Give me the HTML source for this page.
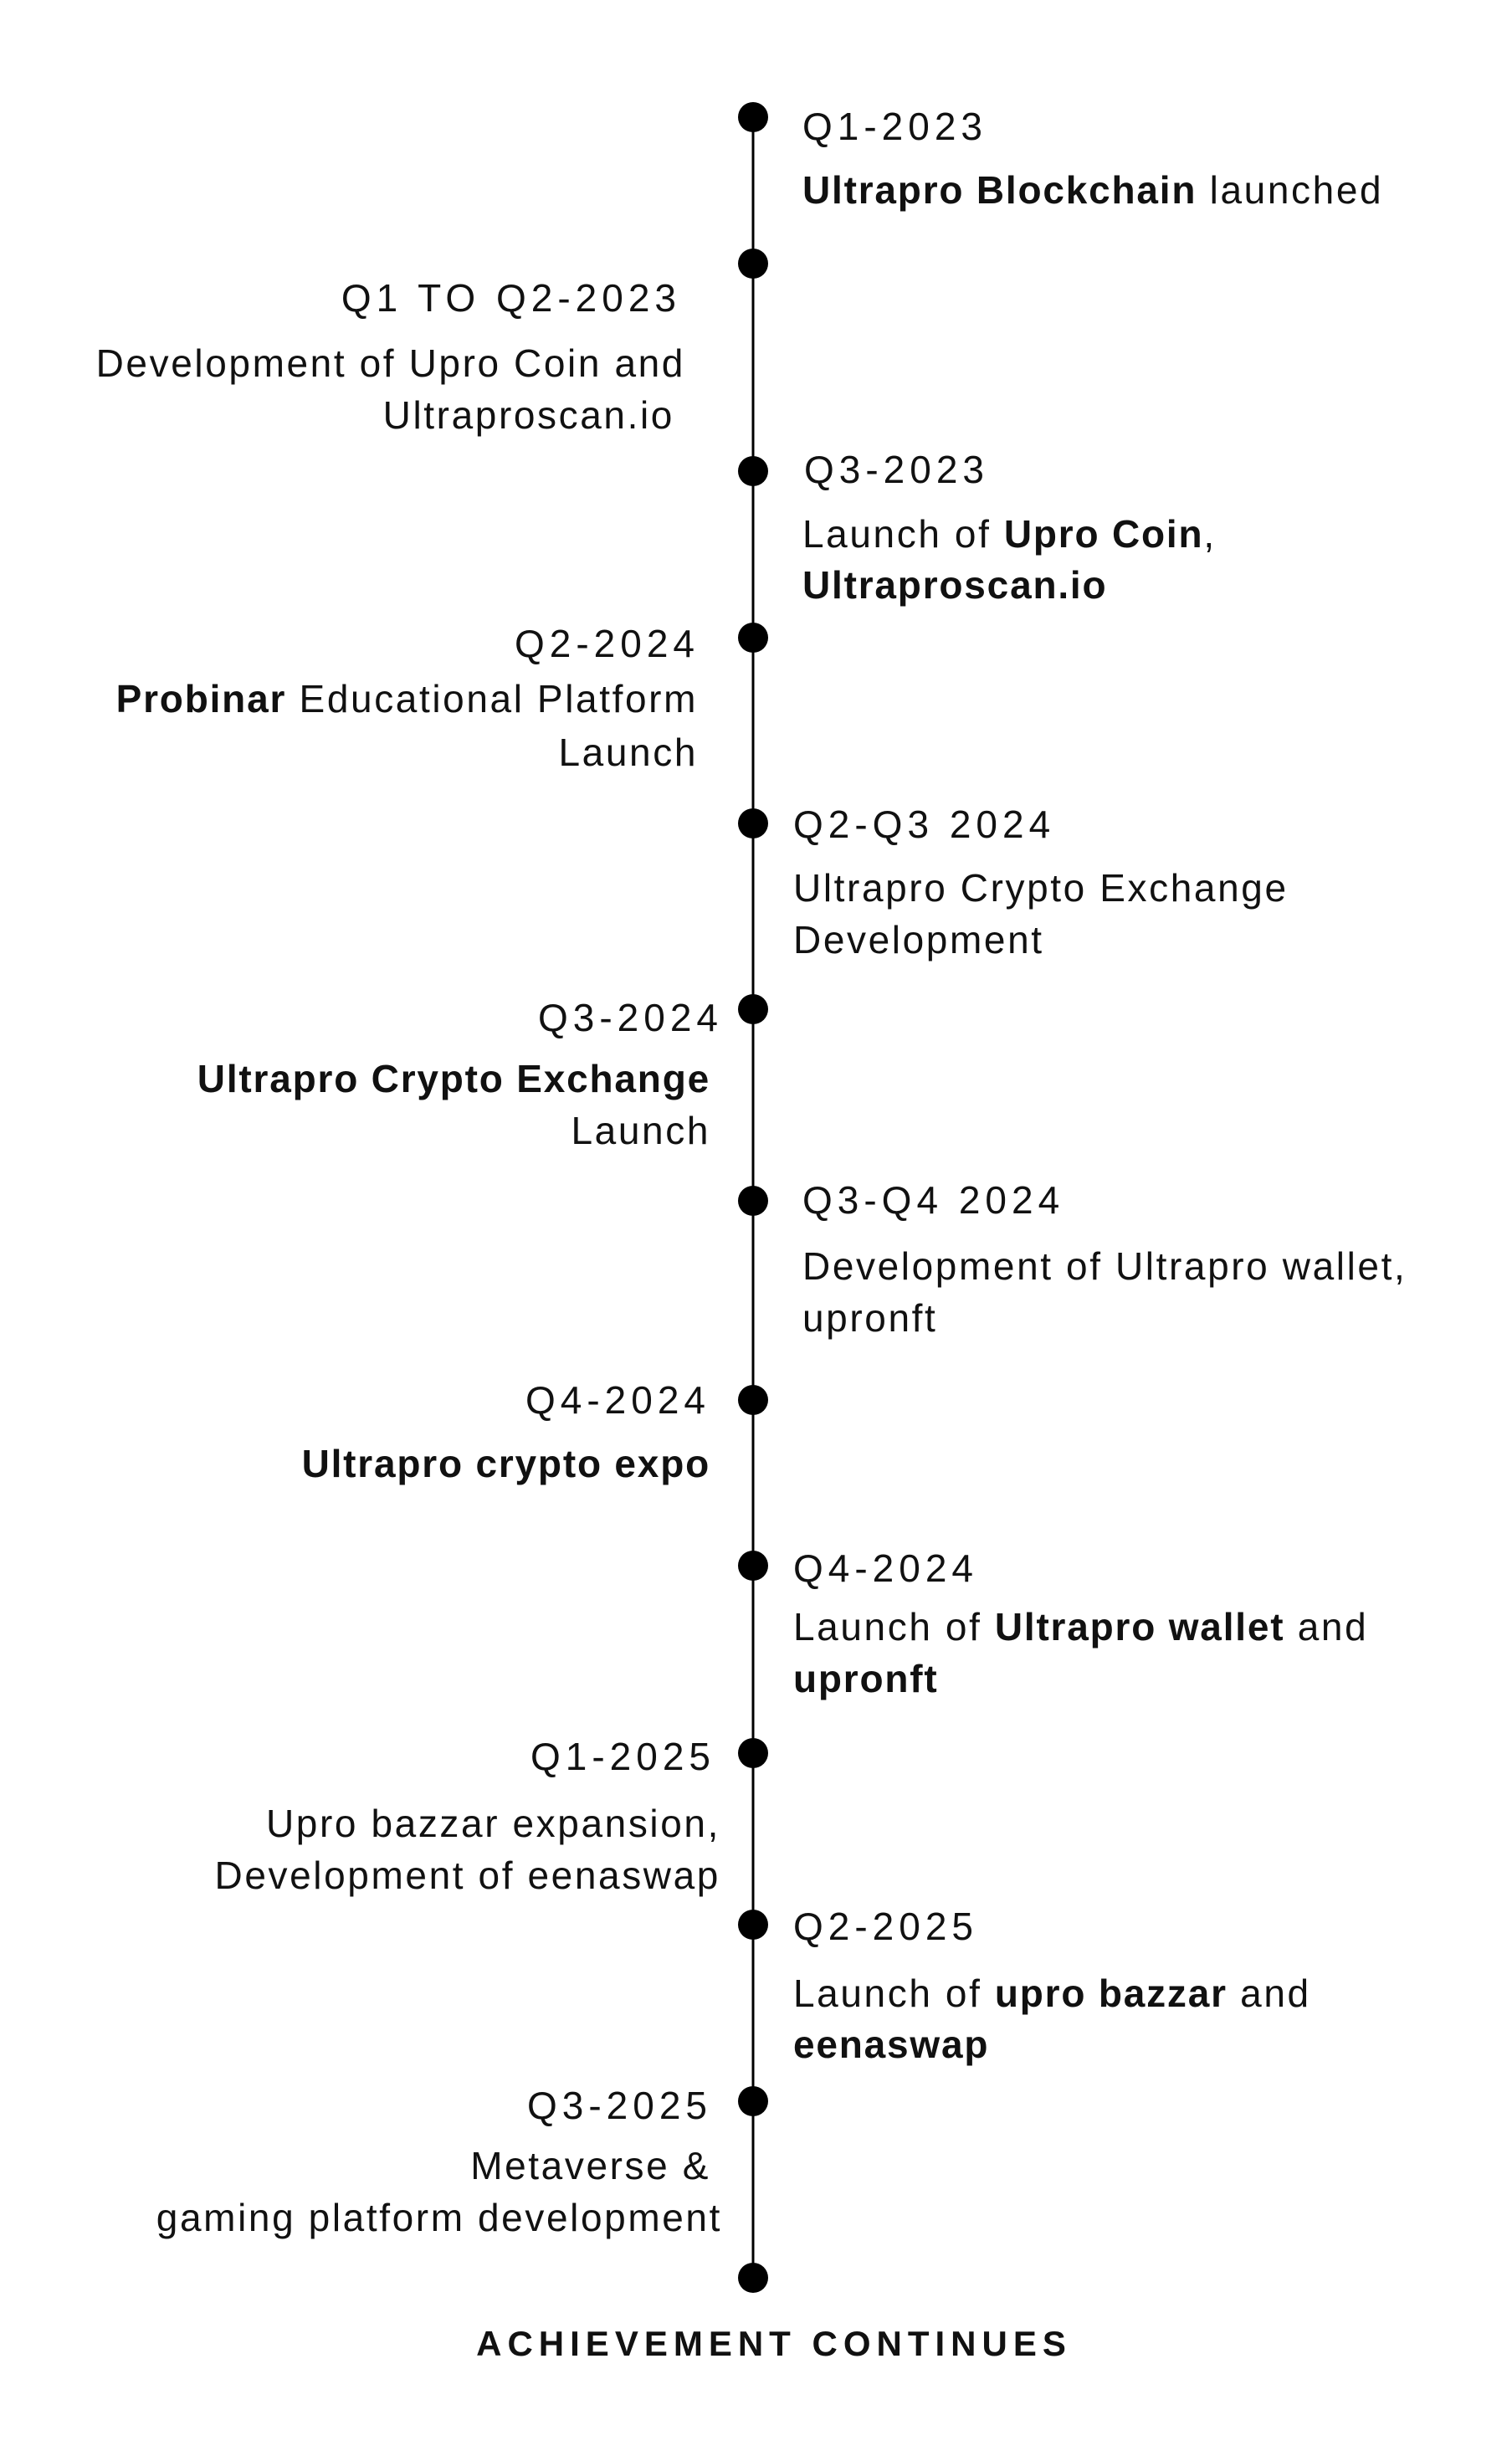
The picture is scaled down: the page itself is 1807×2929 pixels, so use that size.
<!DOCTYPE html>
<html><head><meta charset="utf-8"><style>
html,body{margin:0;padding:0;background:#fff;}
svg{display:block;}
text{font-family:"Liberation Sans",sans-serif;fill:#111;}
.t{font-size:46px;letter-spacing:6px;}
.b{font-size:46px;letter-spacing:2.6px;}
.bd{font-weight:bold;letter-spacing:1.8px;}
</style></head><body>
<svg width="1807" height="2929" viewBox="0 0 1807 2929">
<line x1="900" y1="140" x2="900" y2="2722" stroke="#000" stroke-width="3"/>
<g id="dots"></g>

<g>
<text class="t" x="959" y="167">Q1-2023</text>
<text class="b" x="959" y="243"><tspan class="bd">Ultrapro Blockchain</tspan> launched</text>
</g>
<g>
<text class="t" x="814" y="372" text-anchor="end">Q1 TO Q2-2023</text>
<text class="b" x="819" y="450" text-anchor="end">Development of Upro Coin and</text>
<text class="b" x="806" y="512" text-anchor="end">Ultraproscan.io</text>
</g>
<g>
<text class="t" x="961" y="577">Q3-2023</text>
<text class="b" x="959" y="654">Launch of <tspan class="bd">Upro Coin</tspan>,</text>
<text class="b bd" x="959" y="715">Ultraproscan.io</text>
</g>
<g>
<text class="t" x="836" y="785" text-anchor="end">Q2-2024</text>
<text class="b" x="834" y="851" text-anchor="end"><tspan class="bd">Probinar</tspan> Educational Platform</text>
<text class="b" x="834" y="915" text-anchor="end">Launch</text>
</g>
<g>
<text class="t" x="948" y="1001">Q2-Q3 2024</text>
<text class="b" x="948" y="1077">Ultrapro Crypto Exchange</text>
<text class="b" x="948" y="1139">Development</text>
</g>
<g>
<text class="t" x="864" y="1232" text-anchor="end">Q3-2024</text>
<text class="b bd" x="849" y="1305" text-anchor="end">Ultrapro Crypto Exchange</text>
<text class="b" x="849" y="1367" text-anchor="end">Launch</text>
</g>
<g>
<text class="t" x="959" y="1450">Q3-Q4 2024</text>
<text class="b" x="959" y="1529">Development of Ultrapro wallet,</text>
<text class="b" x="959" y="1591">upronft</text>
</g>
<g>
<text class="t" x="849" y="1689" text-anchor="end">Q4-2024</text>
<text class="b bd" x="849" y="1765" text-anchor="end">Ultrapro crypto expo</text>
</g>
<g>
<text class="t" x="948" y="1890">Q4-2024</text>
<text class="b" x="948" y="1960">Launch of <tspan class="bd">Ultrapro wallet</tspan> and</text>
<text class="b bd" x="948" y="2022">upronft</text>
</g>
<g>
<text class="t" x="855" y="2115" text-anchor="end">Q1-2025</text>
<text class="b" x="861" y="2195" text-anchor="end">Upro bazzar expansion,</text>
<text class="b" x="861" y="2257" text-anchor="end">Development of eenaswap</text>
</g>
<g>
<text class="t" x="948" y="2318">Q2-2025</text>
<text class="b" x="948" y="2398">Launch of <tspan class="bd">upro bazzar</tspan> and</text>
<text class="b bd" x="948" y="2459">eenaswap</text>
</g>
<g>
<text class="t" x="851" y="2532" text-anchor="end">Q3-2025</text>
<text class="b" x="849" y="2604" text-anchor="end">Metaverse &amp;</text>
<text class="b" x="863" y="2666" text-anchor="end">gaming platform development</text>
</g>
<text x="925" y="2815" text-anchor="middle" style="font-size:42px;font-weight:bold;letter-spacing:7px;">ACHIEVEMENT CONTINUES</text>
</svg>
<script>
const dotY = [140, 315, 563, 762, 984, 1206, 1435, 1673, 1871, 2095, 2300, 2511, 2722];
const g = document.getElementById('dots');
dotY.forEach(function(y){
  const c = document.createElementNS('http://www.w3.org/2000/svg','circle');
  c.setAttribute('cx', 900);
  c.setAttribute('cy', y);
  c.setAttribute('r', 18);
  c.setAttribute('fill', '#000');
  
  
  g.appendChild(c);
});
</script>
</body></html>
